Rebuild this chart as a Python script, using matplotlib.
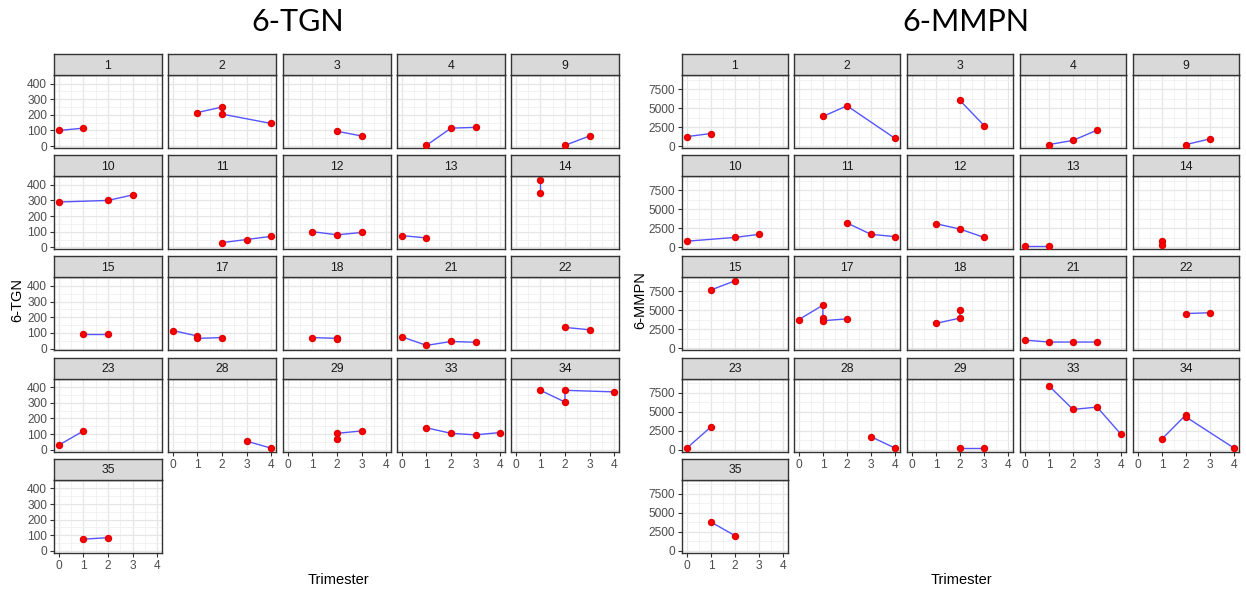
import matplotlib
matplotlib.use('Agg')
import matplotlib.pyplot as plt
from matplotlib.ticker import MultipleLocator

plt.rcParams['font.family'] = ['Liberation Sans', 'DejaVu Sans']

# patient ids (facets), same for both panels
ids = [1, 2, 3, 4, 9, 10, 11, 12, 13, 14, 15, 17, 18, 21, 22, 23, 28, 29, 33, 34, 35]

# trimester per patient
tgn_x = [[0, 1], [1, 2, 2, 4], [2, 3], [1, 2, 3], [2, 3],
         [0, 2, 3], [2, 3, 4], [1, 2, 3], [0, 1], [1, 1],
         [1, 2], [0, 1, 1, 2], [1, 2, 2], [0, 1, 2, 3], [2, 3],
         [0, 1], [3, 4], [2, 2, 3], [1, 2, 3, 4], [1, 2, 2, 4],
         [1, 2]]
tgn_y = [[100, 115], [215, 250, 205, 145], [95, 65], [5, 115, 120], [5, 65],
         [290, 300, 335], [30, 50, 70], [100, 80, 95], [75, 60], [430, 350],
         [95, 95], [115, 80, 65, 70], [70, 65, 60], [75, 20, 45, 40], [135, 120],
         [30, 120], [55, 10], [70, 105, 120], [140, 105, 95, 110], [380, 305, 380, 370],
         [75, 85]]

mmpn_x = [[0, 1], [1, 2, 4], [2, 3], [1, 2, 3], [2, 3],
          [0, 2, 3], [2, 3, 4], [1, 2, 3], [0, 1], [1, 1],
          [1, 2], [0, 1, 1, 1, 2], [1, 2, 2], [0, 1, 2, 3], [2, 3],
          [0, 1], [3, 4], [2, 3], [1, 2, 3, 4], [1, 2, 2, 4],
          [1, 2]]
mmpn_y = [[1250, 1650], [3900, 5300, 1000], [6000, 2700], [200, 750, 2100], [200, 950],
          [800, 1300, 1700], [3200, 1700, 1400], [3100, 2400, 1300], [150, 150], [800, 300],
          [7700, 8900], [3800, 5700, 4000, 3650, 3900], [3300, 4000, 5000], [1100, 850, 850, 850], [4600, 4700],
          [200, 3000], [1700, 200], [200, 200], [8400, 5300, 5600, 2000], [1400, 4600, 4300, 200],
          [3800, 2000]]

W, H = 1246, 590
fig = plt.figure(figsize=(W / 100, H / 100), dpi=100)

def box(x, y, w, h):
    return [x / W, 1 - (y + h) / H, w / W, h / H]

def facet_grid(lefts, pw, xs, ys, yticks, yminor, ylim, ylabel, ylab_x, title, tx):
    strip_h, panel_h, pitch, top0 = 21, 73, 101.2, 54
    for k, pid in enumerate(ids):
        r, c = divmod(k, 5)
        st = top0 + r * pitch
        ax = fig.add_axes(box(lefts[c], st + strip_h, pw, panel_h))
        ax.set_facecolor('white')
        ax.set_xlim(-0.2, 4.2)
        ax.set_ylim(*ylim)
        ax.set_xticks([0, 1, 2, 3, 4])
        ax.xaxis.set_minor_locator(MultipleLocator(0.5))
        ax.set_yticks(yticks)
        ax.yaxis.set_minor_locator(MultipleLocator(yminor))
        ax.grid(which='major', color='#E6E6E6', lw=0.9)
        ax.grid(which='minor', color='#F0F0F0', lw=0.6)
        ax.set_axisbelow(True)
        ax.tick_params(which='minor', length=0)
        ax.tick_params(which='major', length=3, width=0.8, color='#333333',
                       labelsize=8.6, labelcolor='#4D4D4D', pad=2)
        for s in ax.spines.values():
            s.set_color('#333333')
            s.set_linewidth(1)
        bottom = (r == 4) or (r == 3 and c > 0)
        if not bottom:
            ax.tick_params(axis='x', labelbottom=False, length=0)
        if c != 0:
            ax.tick_params(axis='y', labelleft=False, length=0)
        ax.plot(xs[k], ys[k], color='#5555FF', lw=1, zorder=3)
        ax.plot(xs[k], ys[k], 'o', color='#FF0000', ms=4.3, mec='#E00000', zorder=4, lw=0)

        sax = fig.add_axes(box(lefts[c], st, pw, strip_h))
        sax.set_facecolor('#D9D9D9')
        sax.set_xticks([])
        sax.set_yticks([])
        for s in sax.spines.values():
            s.set_color('#333333')
            s.set_linewidth(1)
        sax.text(0.5, 0.45, str(pid), ha='center', va='center', fontsize=8.8,
                 color='#1A1A1A', transform=sax.transAxes)

    fig.text(tx / W, 1 - 22 / H, title, ha='center', va='center', fontsize=22,
             family=['Lato', 'DejaVu Sans'])
    fig.text(ylab_x / W, 1 - 300 / H, ylabel, rotation=90, ha='center',
             va='center', fontsize=10.5)
    fig.text((lefts[2] + pw / 2 + 1) / W, 1 - 580 / H, 'Trimester', ha='center',
             va='center', fontsize=10.5)

facet_grid([54, 168, 283, 397, 511], 108, tgn_x, tgn_y,
           [0, 100, 200, 300, 400], 50, (-12, 455), '6-TGN', 17, '6-TGN', 298)
facet_grid([682, 794, 907, 1020, 1133], 106, mmpn_x, mmpn_y,
           [0, 2500, 5000, 7500], 1250, (-250, 9350), '6-MMPN', 640, '6-MMPN', 966)

fig.savefig('out.png', dpi=100, facecolor='white')
